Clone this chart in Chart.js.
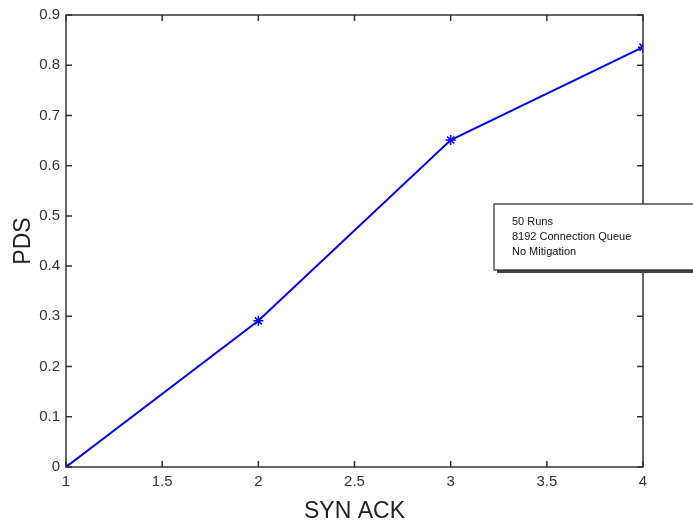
<!DOCTYPE html>
<html lang="en">
<head>
  <meta charset="UTF-8">
  <title>PDS vs SYN ACK</title>
  <script src="https://cdn.jsdelivr.net/npm/chart.js@4/dist/chart.umd.min.js"></script>
  <style>
    body { margin: 0; background: #fff; }
    #wrap { width: 693px; height: 529px; }
  </style>
</head>
<body>
<div id="wrap"><canvas id="myChart" width="693" height="529"></canvas></div>
<script>
const synAck = [1, 2, 3, 4];
const pds = [0, 0.291, 0.651, 0.836];
const legendLines = ['50 Runs', '8192 Connection Queue', 'No Mitigation'];

const axisColor = '#333';
const fontFam = '"Liberation Sans", Arial, sans-serif';

// matlab-style box with inward ticks + the text box on the right
const boxPlugin = {
  id: 'box',
  afterDraw(chart) {
    const { ctx, chartArea: a, scales } = chart;
    ctx.save();
    ctx.strokeStyle = axisColor;
    ctx.lineWidth = 1.5;
    ctx.strokeRect(a.left, a.top, a.right - a.left, a.bottom - a.top);
    ctx.beginPath();
    scales.x.ticks.forEach(t => {
      const px = scales.x.getPixelForValue(t.value);
      ctx.moveTo(px, a.bottom); ctx.lineTo(px, a.bottom - 6);
      ctx.moveTo(px, a.top); ctx.lineTo(px, a.top + 6);
    });
    scales.y.ticks.forEach(t => {
      const py = scales.y.getPixelForValue(t.value);
      ctx.moveTo(a.left, py); ctx.lineTo(a.left + 6, py);
      ctx.moveTo(a.right, py); ctx.lineTo(a.right - 6, py);
    });
    ctx.stroke();

    // legend-ish text box
    const bx = 494, by = 204, bw = 220, bh = 66;
    ctx.fillStyle = '#444';
    ctx.fillRect(bx + 3, by + 3, bw, bh);
    ctx.fillStyle = '#fff';
    ctx.fillRect(bx, by, bw, bh);
    ctx.strokeStyle = '#222';
    ctx.lineWidth = 1.2;
    ctx.strokeRect(bx, by, bw, bh);
    ctx.fillStyle = '#111';
    ctx.font = '11px ' + fontFam;
    ctx.textBaseline = 'middle';
    legendLines.forEach((s, i) => ctx.fillText(s, 512, 222 + i * 15));
    ctx.restore();
  }
};

new Chart(document.getElementById('myChart'), {
  type: 'line',
  data: {
    datasets: [{
      data: synAck.map((x, i) => ({ x: x, y: pds[i] })),
      borderColor: '#0000ff',
      backgroundColor: '#0000ff',
      borderWidth: 2,
      pointStyle: 'star',
      pointRadius: 5,
      pointBorderWidth: 1.5,
      tension: 0,
      fill: false
    }]
  },
  options: {
    responsive: false,
    animation: false,
    layout: { padding: { top: 15, right: 50, left: 0, bottom: 0 } },
    plugins: { legend: { display: false }, tooltip: { enabled: false } },
    scales: {
      x: {
        type: 'linear',
        min: 1, max: 4,
        grid: { display: false, drawTicks: false },
        border: { display: false },
        ticks: { stepSize: 0.5, color: axisColor, padding: 6,
          callback: v => String(+v.toFixed(1)),
          font: { size: 15, family: fontFam } },
        title: { display: true, text: 'SYN ACK', color: '#222', padding: { top: 4 },
          font: { size: 23, family: fontFam } },
        afterFit(s) { s.height = 62; }
      },
      y: {
        min: 0, max: 0.9,
        grid: { display: false, drawTicks: false },
        border: { display: false },
        ticks: { stepSize: 0.1, color: axisColor, padding: 6,
          callback: v => String(+v.toFixed(1)),
          font: { size: 15, family: fontFam } },
        title: { display: true, text: 'PDS', color: '#222', padding: { top: 10, bottom: 0 },
          font: { size: 23, family: fontFam } },
        afterFit(s) { s.width = 66; }
      }
    }
  },
  plugins: [boxPlugin]
});
</script>
</body>
</html>
